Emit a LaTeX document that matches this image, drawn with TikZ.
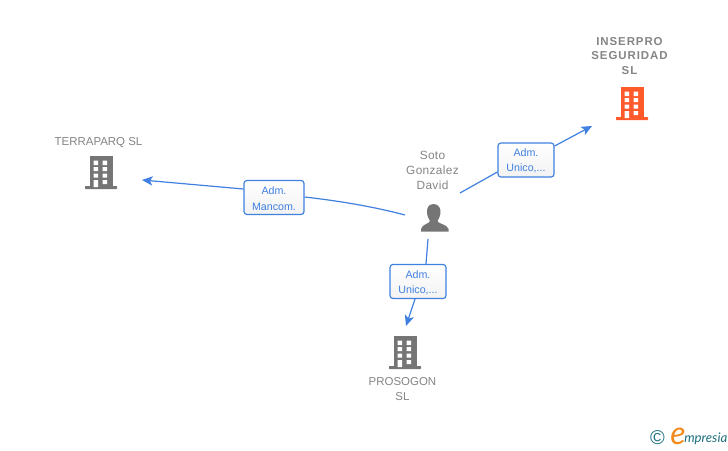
\documentclass[tikz,border=0pt]{standalone}
\usepackage{fontspec}
\setmainfont{Liberation Sans}
\newfontfamily\logofont{Lato}
\newfontfamily\spacedfont[LetterSpace=3]{Liberation Sans}
\newfontfamily\spacedbold[LetterSpace=8]{Liberation Sans}
\usetikzlibrary{arrows.meta}
\definecolor{linkblue}{HTML}{3F80E0}
\definecolor{labelgrey}{HTML}{858585}
\definecolor{icongrey}{HTML}{757575}
\definecolor{iconorange}{HTML}{FF5A2B}
\definecolor{logoteal}{HTML}{1F6F80}
\definecolor{logoorange}{HTML}{F28A1E}
\tikzset{
  x=0.75pt,y=-0.75pt,
  edgeline/.style={draw=linkblue,line width=0.9pt},
  arrowline/.style={edgeline,-{Stealth[length=8pt,width=7pt,inset=2pt]}},
  relbox/.style={draw=linkblue,line width=0.9pt,rounded corners=2.2pt,top color=white,bottom color=white!95!black,
    text=linkblue,font=\fontsize{8}{11.4}\selectfont,align=center,inner sep=0pt,minimum height=25.5pt},
  entname/.style={text=labelgrey,font=\fontsize{8.6}{11.2}\selectfont,align=center,inner sep=0pt},
  persname/.style={text=labelgrey,font=\spacedfont\fontsize{8.9}{11.2}\selectfont,align=center,inner sep=0pt},
}
\newcommand{\mybldg}[3]{%
  \begin{scope}[shift={(#1,#2)}]
    \fill[#3] (0,0) rectangle (22.5,31);
    \fill[#3,rounded corners=0.5pt] (-5,30) rectangle (27,33);
    \fill[white] (3.7,4.5) rectangle (8.2,9) (12.7,4.5) rectangle (17.2,9)
      (3.7,11) rectangle (8.2,15) (12.7,11) rectangle (17.2,15)
      (3.7,17.5) rectangle (8.2,21.5) (12.7,17.5) rectangle (17.2,21.5)
      (3.7,24) rectangle (8.2,31) (12.7,24) rectangle (17.2,28);
  \end{scope}}
\newcommand{\topstrut}{\rule{0pt}{7.5pt}}
\begin{document}
\begin{tikzpicture}
\useasboundingbox (0,0) rectangle (728,450);
\fill[white] (0,0) rectangle (728,450);
% icons
\mybldg{90}{156}{icongrey}
\mybldg{621}{87}{iconorange}
\mybldg{394}{336}{icongrey}
% person icon
\fill[icongrey] (433.5,204) .. controls (428,204) and (426.5,209) .. (427,213)
  .. controls (427.5,217) and (429,219) .. (430,221)
  .. controls (429.5,224) and (422,224) .. (421,229)
  -- (421,231.5) -- (448.5,231.5) -- (448.5,229)
  .. controls (447,224) and (438,224) .. (437.5,221)
  .. controls (438.5,219) and (440,217) .. (440.5,213)
  .. controls (441,209) and (439,204) .. (433.5,204) -- cycle;
% names
\node[entname] (terra) at (98.5,142.5) {TERRAPARQ SL};
\node[entname,font=\spacedbold\bfseries\fontsize{8.6}{11.2}\selectfont] (inser) at (629.5,56) {INSERPRO\\SEGURIDAD\\SL};
\node[entname] (proso) at (402.5,389) {PROSOGON\\SL};
\node[persname] (soto) at (432.5,170) {Soto\\Gonzalez\\David};
% relation boxes
\node[relbox,minimum width=42pt] (boxa) at (526,160) {\topstrut Adm.\\Unico,...};
\node[relbox,minimum width=45pt] (boxb) at (274,197.5) {\topstrut Adm.\\Mancom.};
\node[relbox,minimum width=42pt] (boxc) at (418,281.5) {\topstrut Adm.\\Unico,...};
% connector ends
\coordinate (persa) at (460,193);
\coordinate (persb) at (405,215);
\coordinate (persc) at (428,239);
\coordinate (tipa) at (592,126);
\coordinate (tipb) at (142,180);
\coordinate (tipc) at (406,326);
% connectors
\draw[edgeline] (persa) -- (boxa.west |- 0,172);
\draw[arrowline] (boxa.east |- 0,146) -- (tipa);
\draw[edgeline] (persb) .. controls (375,207) and (340,201) .. (boxb.east |- 0,197);
\draw[arrowline] (boxb.west |- 0,189) -- (tipb);
\draw[edgeline] (persc) -- (426,264);
\draw[arrowline] (415,299) -- (tipc);
% logo
\node[inner sep=0pt,text=logoteal,font=\fontsize{15}{15}\selectfont] (copy) at (657.5,438) {©};
\node[inner sep=0pt,text=logoorange,font=\logofont\itshape\fontsize{24}{24}\selectfont] (logoe) at (678,436.5) {e};
\node[inner sep=0pt,anchor=base west,text=logoteal,font=\logofont\itshape\fontsize{9.9}{10}\selectfont] (logot) at (684,442) {mpresia};
\end{tikzpicture}
\end{document}
